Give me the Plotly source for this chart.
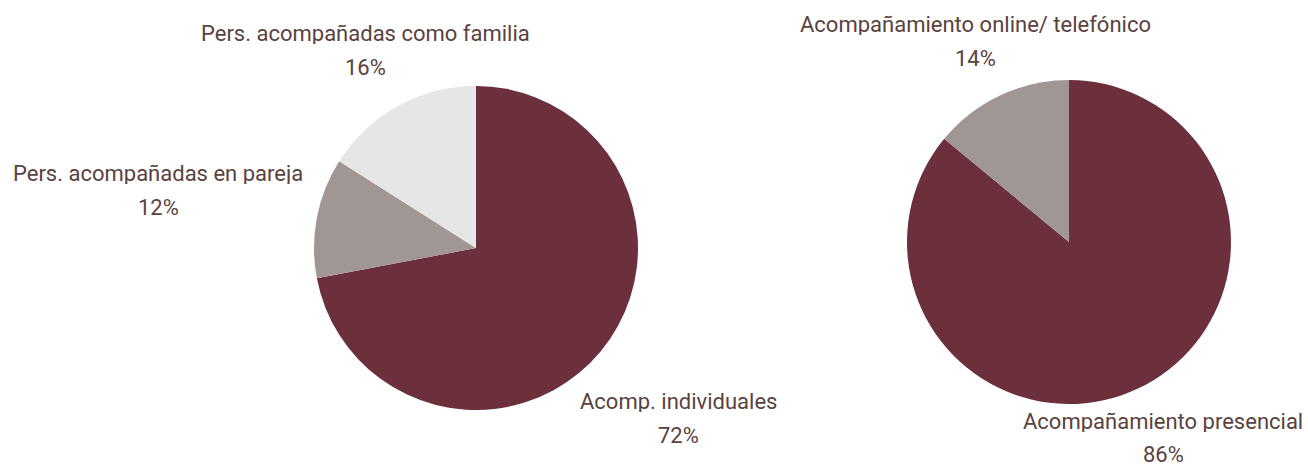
import plotly.graph_objects as go

W, H = 1308, 466

# Data
left_labels = ["Acomp. individuales", "Pers. acompañadas en pareja", "Pers. acompañadas como familia"]
left_values = [72, 12, 16]
right_labels = ["Acompañamiento presencial", "Acompañamiento online/ telefónico"]
right_values = [86, 14]

left_colors = ["#6B303C", "#A09694", "#E6E6E6"]
right_colors = ["#6B303C", "#A09694"]

TEXT_COLOR = "#5a4240"
FONT = "Roboto"
FS = 22

def px_x(x):
    return x / W

def px_y(y):
    return 1 - y / H

fig = go.Figure()
fig.add_trace(go.Pie(
    labels=left_labels, values=left_values, sort=False, direction="clockwise",
    rotation=0, marker=dict(colors=left_colors, line=dict(width=0)),
    textinfo="none", hoverinfo="label+percent", showlegend=False,
    domain=dict(x=[px_x(314), px_x(638)], y=[px_y(410), px_y(86)]),
))
fig.add_trace(go.Pie(
    labels=right_labels, values=right_values, sort=False, direction="clockwise",
    rotation=0, marker=dict(colors=right_colors, line=dict(width=0)),
    textinfo="none", hoverinfo="label+percent", showlegend=False,
    domain=dict(x=[px_x(907), px_x(1231)], y=[px_y(404), px_y(80)]),
))

# label positions (center x, name line y, percent line y) in pixels
left_pos = [(678, 401, 435), (158, 173, 207), (365, 33, 67)]
right_pos = [(1163, 421, 454), (975, 24, 58)]

annotations = []
for labels, values, pos in [(left_labels, left_values, left_pos), (right_labels, right_values, right_pos)]:
    for lab, val, (cx, y1, y2) in zip(labels, values, pos):
        for txt, yy in [(lab, y1), (f"{val}%", y2)]:
            annotations.append(dict(
                x=px_x(cx), y=px_y(yy), xref="paper", yref="paper",
                text=txt, showarrow=False, xanchor="center", yanchor="middle",
                height=22, borderpad=0,
                font=dict(family=FONT, size=FS, color=TEXT_COLOR),
            ))

fig.update_layout(
    width=W, height=H,
    margin=dict(l=0, r=0, t=0, b=0),
    paper_bgcolor="white", plot_bgcolor="white",
    annotations=annotations,
)

fig.write_html("out.html", config={"displayModeBar": False},
               post_script="document.body.style.margin='0px';")
